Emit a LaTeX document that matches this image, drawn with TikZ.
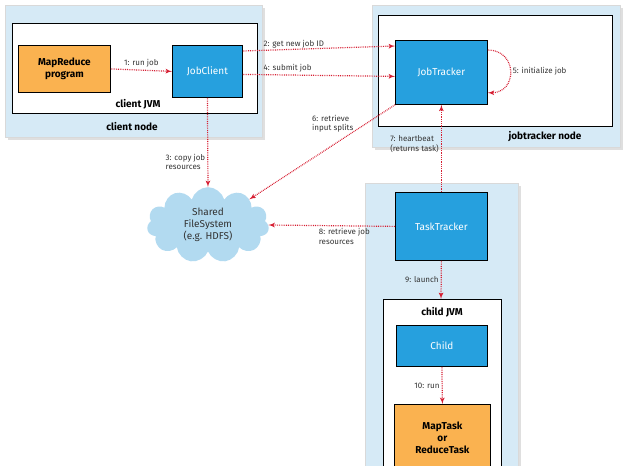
\documentclass[tikz,border=0pt]{standalone}
\usepackage{fontspec}
\setmainfont{Fira Sans}
\usetikzlibrary{arrows,shapes.symbols,shadows}
\definecolor{nodebg}{RGB}{214,234,246}
\definecolor{procblue}{RGB}{38,160,222}
\definecolor{progorange}{RGB}{250,178,80}
\definecolor{arrred}{RGB}{214,30,50}
\definecolor{cloudblue}{RGB}{178,218,240}
\tikzstyle{hostbox}=[fill=nodebg, draw=black!15, drop shadow={opacity=0.25}]
\tikzstyle{jvmbox}=[fill=white, draw=black, thick]
\tikzstyle{proc}=[draw=black, thick, fill=procblue, text=white, anchor=north west,
  inner sep=0pt, font=\normalsize]
\tikzstyle{prog}=[draw=black, thick, fill=progorange, anchor=north west, inner sep=0pt,
  align=center, font=\normalsize\bfseries]
\tikzstyle{boxlabel}=[font=\normalsize\bfseries]
\tikzstyle{steplabel}=[font=\footnotesize, align=left, text=black!80, inner sep=2pt]
\tikzstyle{line}=[draw, color=arrred, thick, densely dotted, -latex', line width=1.2pt]
\begin{document}
\begin{tikzpicture}[x=1pt,y=-1pt]
  \useasboundingbox (0,0) rectangle (630,466);

  % host and JVM backgrounds
  \path[hostbox] (5,5) rectangle (262,137);
  \path[jvmbox] (12,23) rectangle (257,113);
  \path[hostbox] (372,5) rectangle (620,147);
  \path[jvmbox] (378,15) rectangle (612,126);
  \path[hostbox] (365,183) rectangle (518,470);
  \path[jvmbox] (383,299) rectangle (501,470);

  \node[boxlabel] (clientjvm) at (138,104) {client JVM};
  \node[boxlabel] (clientnode) at (132,127) {client node};
  \node[boxlabel] (jtnode) at (545,137) {jobtracker node};
  \node[boxlabel] (childjvm) at (442,312) {child JVM};
  \coordinate (JVMTOP) at (441,299);

  % processes
  \node[prog, minimum width=92pt, minimum height=47pt] (MRPROG) at (18,45) {MapReduce\\program};
  \node[proc, minimum width=70pt, minimum height=52pt] (JOBCLIENT) at (172,45) {JobClient};
  \node[proc, minimum width=92pt, minimum height=64pt] (JOBTRACKER) at (395,40) {JobTracker};
  \node[proc, minimum width=92pt, minimum height=68pt] (TASKTRACKER) at (395,192) {TaskTracker};
  \node[proc, minimum width=91pt, minimum height=41pt] (CHILD) at (396,325) {Child};
  \node[prog, minimum width=96pt, minimum height=66pt] (TASK) at (394,404) {MapTask\\or\\ReduceTask};
  \node[cloud, cloud puffs=11, aspect=1.7, fill=cloudblue, draw=none,
    minimum width=122pt, minimum height=74pt, align=center, font=\normalsize, text=black!80]
    (HDFS) at (208,225) {Shared\\FileSystem\\(e.g. HDFS)};

  % arrows
  \path[line] (MRPROG.east) -- node[above, steplabel] {1: run job} (JOBCLIENT.west);
  \path[line] ([yshift=-6pt]JOBCLIENT.north east) -- node[above right, steplabel, pos=0.12] {2: get new job ID}
    ([yshift=-6pt]JOBTRACKER.north west);
  \path[line] ([yshift=-3pt]JOBCLIENT.east) -- node[above right, steplabel, pos=0.12] {4: submit job}
    ([yshift=-4pt]JOBTRACKER.west);
  \path[line] (JOBCLIENT.south) -- node[left, steplabel, pos=0.72] {3: copy job\\resources} (HDFS.north);
  \path[line] ([yshift=-10pt]JOBTRACKER.north east) .. controls +(30,0) and +(30,0) ..
    node[right, steplabel] {5: initialize job} ([yshift=12pt]JOBTRACKER.south east);
  \path[line] (JOBTRACKER.south west) -- node[steplabel, pos=0.2, left, xshift=-10pt] {6: retrieve\\input splits}
    (HDFS.north east);
  \path[line] (TASKTRACKER.north) -- node[left, steplabel, pos=0.55] {7: heartbeat\\(returns task)} (JOBTRACKER.south);
  \path[line] (TASKTRACKER.west) -- node[below, steplabel, pos=0.4] {8: retrieve job\\resources} (HDFS.east);
  \path[line] (TASKTRACKER.south) -- node[left, steplabel] {9: launch} (JVMTOP);
  \path[line] (CHILD.south) -- node[left, steplabel] {10: run} (TASK.north);
\end{tikzpicture}
\end{document}
